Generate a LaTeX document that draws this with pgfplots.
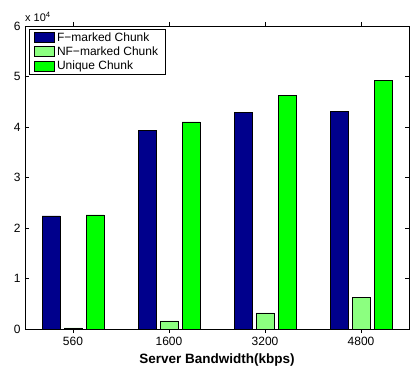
\documentclass[border=0pt]{standalone}
\usepackage{fontspec}
\setmainfont{Liberation Sans}
\usepackage{pgfplots}
\pgfplotsset{compat=1.18}
\definecolor{fblue}{RGB}{0,0,140}
\definecolor{nfgreen}{RGB}{140,255,128}
\definecolor{ugreen}{RGB}{0,255,0}
\begin{document}
\begin{tikzpicture}
\begin{axis}[
  scale only axis, width=384pt, height=303pt,
  clip mode=individual,
  xmin=0.5, xmax=4.5, ymin=0, ymax=6,
  xtick={1,2,3,4}, xticklabels={560,1600,3200,4800},
  ytick={0,1,2,3,4,5,6},
  /pgf/number format/assume math mode=true,
  tick label style={font=\fontsize{12}{14}\selectfont},
  xticklabel style={yshift=-1pt},
  yticklabel style={xshift=-1pt},
  tick align=inside, major tick length=4pt,
  tick style={black, line width=0.6pt},
  axis line style={black, line width=0.8pt},
  xlabel={Server Bandwidth(kbps)},
  xlabel style={font=\fontsize{13.5}{15}\selectfont\bfseries, at={(axis description cs:0.5,0)}, anchor=center, yshift=-31pt},
  ybar, bar width=18pt,
  legend style={at={(axis description cs:0,1)}, anchor=north west, xshift=4pt, yshift=-3pt,
    draw=black, line width=0.8pt, font=\fontsize{12}{13}\selectfont, inner xsep=5pt, inner ysep=1pt,
    row sep=0pt, cells={anchor=west}},
  legend image code/.code={\draw[#1, line width=0.6pt] (0pt,-5pt) rectangle (20pt,5pt);},
]
\addplot[fill=fblue, draw=black, line width=0.6pt, bar shift=-22pt] coordinates {(1,2.24) (2,3.93) (3,4.29) (4,4.31)};
\addplot[fill=nfgreen, draw=black, line width=0.6pt, bar shift=0pt] coordinates {(1,0.02) (2,0.16) (3,0.32) (4,0.62)};
\addplot[fill=ugreen, draw=black, line width=0.6pt, bar shift=22pt] coordinates {(1,2.26) (2,4.10) (3,4.62) (4,4.93)};
\legend{F−marked Chunk, NF−marked Chunk, Unique Chunk}
\node[anchor=south west, inner sep=0pt, yshift=4pt, font=\fontsize{11}{12}\selectfont] at (axis description cs:0,1) {x 10\textsuperscript{4}};
\end{axis}
\pgfresetboundingbox
\path[use as bounding box] ([xshift=-25pt,yshift=-42pt]current axis.south west) rectangle ([xshift=1pt,yshift=26pt]current axis.north east);
\end{tikzpicture}
\end{document}
